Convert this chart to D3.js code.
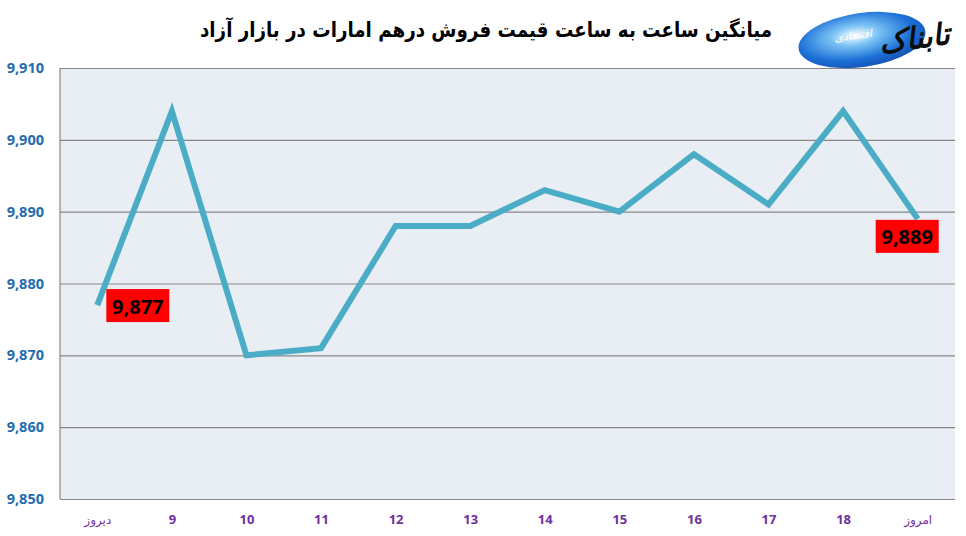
<!DOCTYPE html>
<html>
<head>
<meta charset="utf-8">
<script src="https://cdn.jsdelivr.net/npm/d3@7"></script>
<style>
  body { margin: 0; background: #fff; }
  #chart svg { display: block; }
</style>
</head>
<body>
<div id="chart"></div>
<script>
// data
const categories = ["دیروز", "9", "10", "11", "12", "13", "14", "15", "16", "17", "18", "امروز"];
const prices = [9877, 9904, 9870, 9871, 9888, 9888, 9893, 9890, 9898, 9891, 9904, 9889];
const yTicks = [9850, 9860, 9870, 9880, 9890, 9900, 9910];
const title = "میانگین ساعت به ساعت قیمت فروش درهم امارات در بازار آزاد";

// dimensions
const width = 966;
const height = 536;
const margin = { top: 68, right: 11, bottom: 37, left: 60 };

const svg = d3.select("#chart")
  .append("svg")
  .attr("width", width)
  .attr("height", height);

// scales
const x = d3.scalePoint()
  .domain(categories)
  .range([margin.left, width - margin.right])
  .padding(0.5);

const y = d3.scaleLinear()
  .domain([9850, 9910])
  .range([height - margin.bottom, margin.top]);

// plot background
svg.append("rect")
  .attr("x", margin.left)
  .attr("y", margin.top)
  .attr("width", width - margin.left - margin.right)
  .attr("height", height - margin.top - margin.bottom)
  .attr("fill", "#e8eef3");

// gridlines
svg.append("g")
  .attr("transform", `translate(${margin.left},0)`)
  .call(d3.axisLeft(y)
    .tickValues(yTicks)
    .tickSize(-(width - margin.left - margin.right))
    .tickFormat(""))
  .call(g => g.select(".domain").remove())
  .call(g => g.selectAll("line").attr("stroke", "#878787").attr("stroke-width", 1.2));

// left border
svg.append("line")
  .attr("x1", margin.left).attr("x2", margin.left)
  .attr("y1", margin.top).attr("y2", height - margin.bottom)
  .attr("stroke", "#878787").attr("stroke-width", 1.2);

// y labels
svg.append("g")
  .attr("transform", `translate(${margin.left},0)`)
  .call(d3.axisLeft(y)
    .tickValues(yTicks)
    .tickSize(0)
    .tickPadding(16)
    .tickFormat(d3.format(",")))
  .call(g => g.select(".domain").remove())
  .call(g => g.selectAll("text")
    .style("font-family", "'Open Sans', sans-serif")
    .style("font-size", "14.5px")
    .style("font-weight", "700")
    .attr("fill", "#1f6cae"));

// x labels
svg.append("g")
  .attr("transform", `translate(0,${height - margin.bottom})`)
  .call(d3.axisBottom(x).tickSize(0).tickPadding(16))
  .call(g => g.select(".domain").remove())
  .call(g => g.selectAll("text")
    .style("font-family", d => isNaN(+d) ? "'DejaVu Sans', sans-serif" : "'Open Sans', sans-serif")
    .style("font-size", d => isNaN(+d) ? "12px" : "13px")
    .style("font-weight", d => isNaN(+d) ? "400" : "700")
    .attr("fill", "#7030a0"));

// line
const line = d3.line()
  .x((d, i) => x(categories[i]))
  .y(d => y(d));

svg.append("path")
  .datum(prices)
  .attr("fill", "none")
  .attr("stroke", "#4bacc6")
  .attr("stroke-width", 6)
  .attr("stroke-linejoin", "miter")
  .attr("d", line);

// value callouts (first and last)
const callouts = [0, prices.length - 1];
callouts.forEach(i => {
  const cx = x(categories[i]);
  const cy = y(prices[i]);
  const bx = i === 0 ? cx + 9 : cx - 42;
  const by = i === 0 ? cy - 16 : cy + 1;
  svg.append("rect")
    .attr("x", bx).attr("y", by)
    .attr("width", 63).attr("height", 33)
    .attr("fill", "#ff0000");
  svg.append("text")
    .attr("x", bx + 31.5).attr("y", by + 17)
    .attr("text-anchor", "middle")
    .attr("dominant-baseline", "central")
    .style("font-family", "'Open Sans', sans-serif")
    .style("font-size", "20px")
    .style("font-weight", "700")
    .attr("fill", "#000")
    .text(d3.format(",")(prices[i]));
});

// title
svg.append("text")
  .attr("x", 486)
  .attr("y", 37)
  .attr("text-anchor", "middle")
  .attr("direction", "rtl")
  .attr("textLength", 572)
  .attr("lengthAdjust", "spacingAndGlyphs")
  .style("font-family", "'DejaVu Sans', sans-serif")
  .style("font-size", "21px")
  .style("font-weight", "700")
  .attr("fill", "#000")
  .text(title);

// logo
const defs = svg.append("defs");
const grad = defs.append("radialGradient")
  .attr("id", "logoGrad")
  .attr("cx", "45%").attr("cy", "40%").attr("r", "60%");
grad.append("stop").attr("offset", "0%").attr("stop-color", "#ffffff");
grad.append("stop").attr("offset", "30%").attr("stop-color", "#7cc4f5");
grad.append("stop").attr("offset", "75%").attr("stop-color", "#1a6fd6");
grad.append("stop").attr("offset", "100%").attr("stop-color", "#1656b8");

const logo = svg.append("g").attr("transform", "translate(862,40) rotate(-8)");
logo.append("ellipse")
  .attr("rx", 64).attr("ry", 27)
  .attr("fill", "url(#logoGrad)");
logo.append("text")
  .attr("x", 52).attr("y", 16)
  .attr("text-anchor", "middle")
  .style("font-family", "'DejaVu Sans', sans-serif")
  .style("font-size", "30px")
  .style("font-weight", "700")
  .style("font-style", "italic")
  .attr("fill", "#0d0d0d")
  .text("تابناک");
logo.append("text")
  .attr("x", -8).attr("y", -2)
  .attr("text-anchor", "middle")
  .style("font-family", "'DejaVu Sans', sans-serif")
  .style("font-size", "11px")
  .style("font-style", "italic")
  .attr("fill", "#ffffff")
  .text("اقتصادی");
</script>
</body>
</html>
